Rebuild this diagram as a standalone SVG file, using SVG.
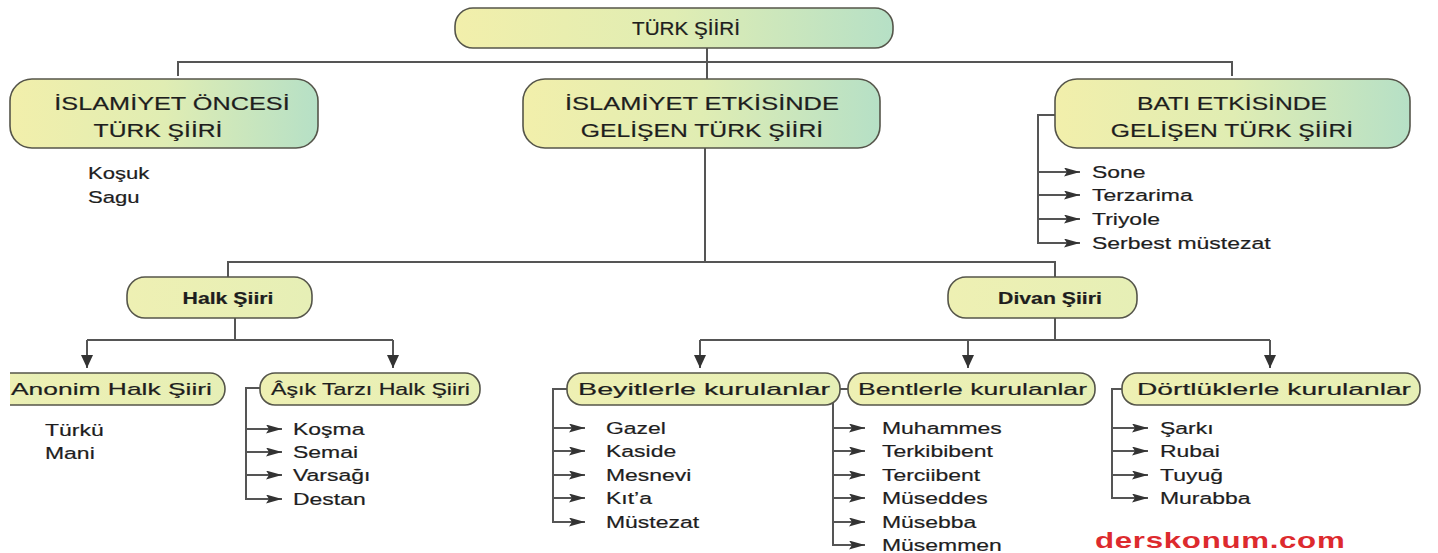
<svg xmlns="http://www.w3.org/2000/svg" width="1438" height="553" viewBox="0 0 1438 553">
<defs>
<style>
.box{stroke:#55554a;stroke-width:1.6}
.top{fill:url(#gTop)}
.sub{fill:url(#gSub)}
.ln{fill:none;stroke:#555;stroke-width:2}
.t{font-family:"Liberation Sans",Arial,sans-serif;fill:#1e1e1e;stroke:#1e1e1e;stroke-width:0.2}
.h1{font-size:19px}
.h3{font-size:17px}
.b{font-weight:bold}
.it{font-size:17px}
.wm{font-family:"Liberation Sans",Arial,sans-serif;font-weight:bold;font-size:22px;fill:#dd2a2e}
</style>
<linearGradient id="gTop" x1="0" y1="0" x2="1" y2="0">
<stop offset="0" stop-color="#f2efab"/>
<stop offset="0.5" stop-color="#e0edb3"/>
<stop offset="1" stop-color="#b6e0c6"/>
</linearGradient>
<linearGradient id="gSub" x1="0" y1="0" x2="1" y2="0">
<stop offset="0" stop-color="#eef0b3"/>
<stop offset="1" stop-color="#e6efb6"/>
</linearGradient>
<marker id="aD" markerUnits="userSpaceOnUse" markerWidth="14" markerHeight="12" refX="13" refY="6" orient="auto">
<path d="M0,0 L13,6 L0,12 z" fill="#333"/>
</marker>
<marker id="aR" markerUnits="userSpaceOnUse" markerWidth="17" markerHeight="9" refX="16" refY="4.5" orient="auto">
<path d="M0,0 L16,4.5 L0,9 L3,4.5 z" fill="#333"/>
</marker>
</defs>
<rect width="1438" height="553" fill="#ffffff"/>

<g id="connectors">
<path class="ln" d="M707,48 V62"/>
<path class="ln" d="M178,76 V62 H1232 V76"/>
<path class="ln" d="M707,62 V79"/>
<path class="ln" d="M705,148 V262"/>
<path class="ln" d="M228,278 V262 H1055 V278"/>
<path class="ln" d="M235,318 V340"/>
<path class="ln" d="M87,340 H393"/>
<path class="ln" d="M87,340 V368" marker-end="url(#aD)"/>
<path class="ln" d="M393,340 V368" marker-end="url(#aD)"/>
<path class="ln" d="M1055,318 V340"/>
<path class="ln" d="M700,340 H1270"/>
<path class="ln" d="M700,340 V368" marker-end="url(#aD)"/>
<path class="ln" d="M968,340 V368" marker-end="url(#aD)"/>
<path class="ln" d="M1270,340 V368" marker-end="url(#aD)"/>
<path class="ln" d="M1055,115 H1038 V243 H1080" marker-end="url(#aR)"/>
<path class="ln" d="M1038,172 H1080" marker-end="url(#aR)"/>
<path class="ln" d="M1038,195 H1080" marker-end="url(#aR)"/>
<path class="ln" d="M1038,219 H1080" marker-end="url(#aR)"/>
<path class="ln" d="M260,388 H246 V499 H282" marker-end="url(#aR)"/>
<path class="ln" d="M246,429 H282" marker-end="url(#aR)"/>
<path class="ln" d="M246,452 H282" marker-end="url(#aR)"/>
<path class="ln" d="M246,475 H282" marker-end="url(#aR)"/>
<path class="ln" d="M567,389 H553 V522 H585" marker-end="url(#aR)"/>
<path class="ln" d="M553,428 H585" marker-end="url(#aR)"/>
<path class="ln" d="M553,451 H585" marker-end="url(#aR)"/>
<path class="ln" d="M553,475 H585" marker-end="url(#aR)"/>
<path class="ln" d="M553,498 H585" marker-end="url(#aR)"/>
<path class="ln" d="M848,389 H833 V545 H865" marker-end="url(#aR)"/>
<path class="ln" d="M833,428 H865" marker-end="url(#aR)"/>
<path class="ln" d="M833,451 H865" marker-end="url(#aR)"/>
<path class="ln" d="M833,475 H865" marker-end="url(#aR)"/>
<path class="ln" d="M833,498 H865" marker-end="url(#aR)"/>
<path class="ln" d="M833,522 H865" marker-end="url(#aR)"/>
<path class="ln" d="M1122,389 H1112 V498 H1148" marker-end="url(#aR)"/>
<path class="ln" d="M1112,428 H1148" marker-end="url(#aR)"/>
<path class="ln" d="M1112,451 H1148" marker-end="url(#aR)"/>
<path class="ln" d="M1112,475 H1148" marker-end="url(#aR)"/>
</g>

<g id="turk-siiri">
<rect class="box top" x="455" y="8" width="438" height="40" rx="18"/>
<text class="t" font-size="18" text-anchor="middle" transform="translate(686,35) scale(1.15,1)">TÜRK ŞİİRİ</text>
</g>

<g id="islamiyet-oncesi">
<rect class="box top" x="10" y="79" width="308" height="69" rx="22"/>
<text class="t h1" text-anchor="middle" transform="translate(172,110) scale(1.33,1)">İSLAMİYET ÖNCESİ</text>
<text class="t h1" text-anchor="middle" transform="translate(158,137) scale(1.3,1)">TÜRK ŞİİRİ</text>
<text class="t it" transform="translate(88,179) scale(1.3,1)">Koşuk</text>
<text class="t it" transform="translate(88,203) scale(1.3,1)">Sagu</text>
</g>

<g id="islamiyet-etkisinde">
<rect class="box top" x="523" y="79" width="357" height="69" rx="22"/>
<text class="t h1" text-anchor="middle" transform="translate(702,110) scale(1.34,1)">İSLAMİYET ETKİSİNDE</text>
<text class="t h1" text-anchor="middle" transform="translate(702,137) scale(1.3,1)">GELİŞEN TÜRK ŞİİRİ</text>
</g>

<g id="bati-etkisinde">
<rect class="box top" x="1055" y="79" width="355" height="69" rx="22"/>
<text class="t h1" text-anchor="middle" transform="translate(1232,110) scale(1.3,1)">BATI ETKİSİNDE</text>
<text class="t h1" text-anchor="middle" transform="translate(1232,137) scale(1.3,1)">GELİŞEN TÜRK ŞİİRİ</text>
<text class="t it" transform="translate(1092,178) scale(1.35,1)">Sone</text>
<text class="t it" transform="translate(1092,201) scale(1.35,1)">Terzarima</text>
<text class="t it" transform="translate(1092,225) scale(1.35,1)">Triyole</text>
<text class="t it" transform="translate(1092,249) scale(1.35,1)">Serbest müstezat</text>
</g>

<g id="halk-siiri">
<rect class="box sub" x="127" y="277" width="185" height="41" rx="18"/>
<text class="t h3 b" text-anchor="middle" transform="translate(228,304) scale(1.25,1)">Halk Şiiri</text>
</g>

<g id="divan-siiri">
<rect class="box sub" x="948" y="277" width="189" height="41" rx="18"/>
<text class="t h3 b" text-anchor="middle" transform="translate(1050,304) scale(1.25,1)">Divan Şiiri</text>
</g>

<g id="anonim-halk-siiri">
<rect x="10" y="373" width="215" height="32" rx="15" class="sub"/>
<rect x="10" y="373" width="30" height="32" class="sub"/>
<path d="M10,373 H210 A15,16 0 0 1 210,405 H10" fill="none" stroke="#55554a" stroke-width="1.6"/>
<text class="t h3" x="11" y="395" textLength="201" lengthAdjust="spacingAndGlyphs">Anonim Halk Şiiri</text>
<text class="t it" transform="translate(45,436) scale(1.35,1)">Türkü</text>
<text class="t it" transform="translate(45,459) scale(1.35,1)">Mani</text>
</g>

<g id="asik-tarzi">
<rect class="box sub" x="260" y="373" width="220" height="32" rx="15"/>
<text class="t h3" x="271" y="395" textLength="199" lengthAdjust="spacingAndGlyphs">Âşık Tarzı Halk Şiiri</text>
<text class="t it" transform="translate(293,435) scale(1.35,1)">Koşma</text>
<text class="t it" transform="translate(293,458) scale(1.35,1)">Semai</text>
<text class="t it" transform="translate(293,481) scale(1.35,1)">Varsağı</text>
<text class="t it" transform="translate(293,505) scale(1.35,1)">Destan</text>
</g>

<g id="beyitlerle">
<rect class="box sub" x="567" y="373" width="273" height="32" rx="15"/>
<text class="t h3" x="578" y="395" textLength="252" lengthAdjust="spacingAndGlyphs">Beyitlerle kurulanlar</text>
<text class="t it" transform="translate(606,434) scale(1.35,1)">Gazel</text>
<text class="t it" transform="translate(606,457) scale(1.35,1)">Kaside</text>
<text class="t it" transform="translate(606,481) scale(1.35,1)">Mesnevi</text>
<text class="t it" transform="translate(606,504) scale(1.35,1)">Kıt’a</text>
<text class="t it" transform="translate(606,528) scale(1.35,1)">Müstezat</text>
</g>

<g id="bentlerle">
<rect class="box sub" x="848" y="373" width="247" height="32" rx="15"/>
<text class="t h3" x="858" y="395" textLength="229" lengthAdjust="spacingAndGlyphs">Bentlerle kurulanlar</text>
<text class="t it" transform="translate(882,434) scale(1.35,1)">Muhammes</text>
<text class="t it" transform="translate(882,457) scale(1.35,1)">Terkibibent</text>
<text class="t it" transform="translate(882,481) scale(1.35,1)">Terciibent</text>
<text class="t it" transform="translate(882,504) scale(1.35,1)">Müseddes</text>
<text class="t it" transform="translate(882,528) scale(1.35,1)">Müsebba</text>
<text class="t it" transform="translate(882,551) scale(1.35,1)">Müsemmen</text>
</g>

<g id="dortluklerle">
<rect class="box sub" x="1122" y="373" width="298" height="32" rx="15"/>
<text class="t h3" x="1137" y="395" textLength="274" lengthAdjust="spacingAndGlyphs">Dörtlüklerle kurulanlar</text>
<text class="t it" transform="translate(1160,434) scale(1.35,1)">Şarkı</text>
<text class="t it" transform="translate(1160,457) scale(1.35,1)">Rubai</text>
<text class="t it" transform="translate(1160,481) scale(1.35,1)">Tuyuğ</text>
<text class="t it" transform="translate(1160,504) scale(1.35,1)">Murabba</text>
</g>

<text class="wm" transform="translate(1095,548) scale(1.42,1)" letter-spacing="0.5">derskonum.com</text>
</svg>
